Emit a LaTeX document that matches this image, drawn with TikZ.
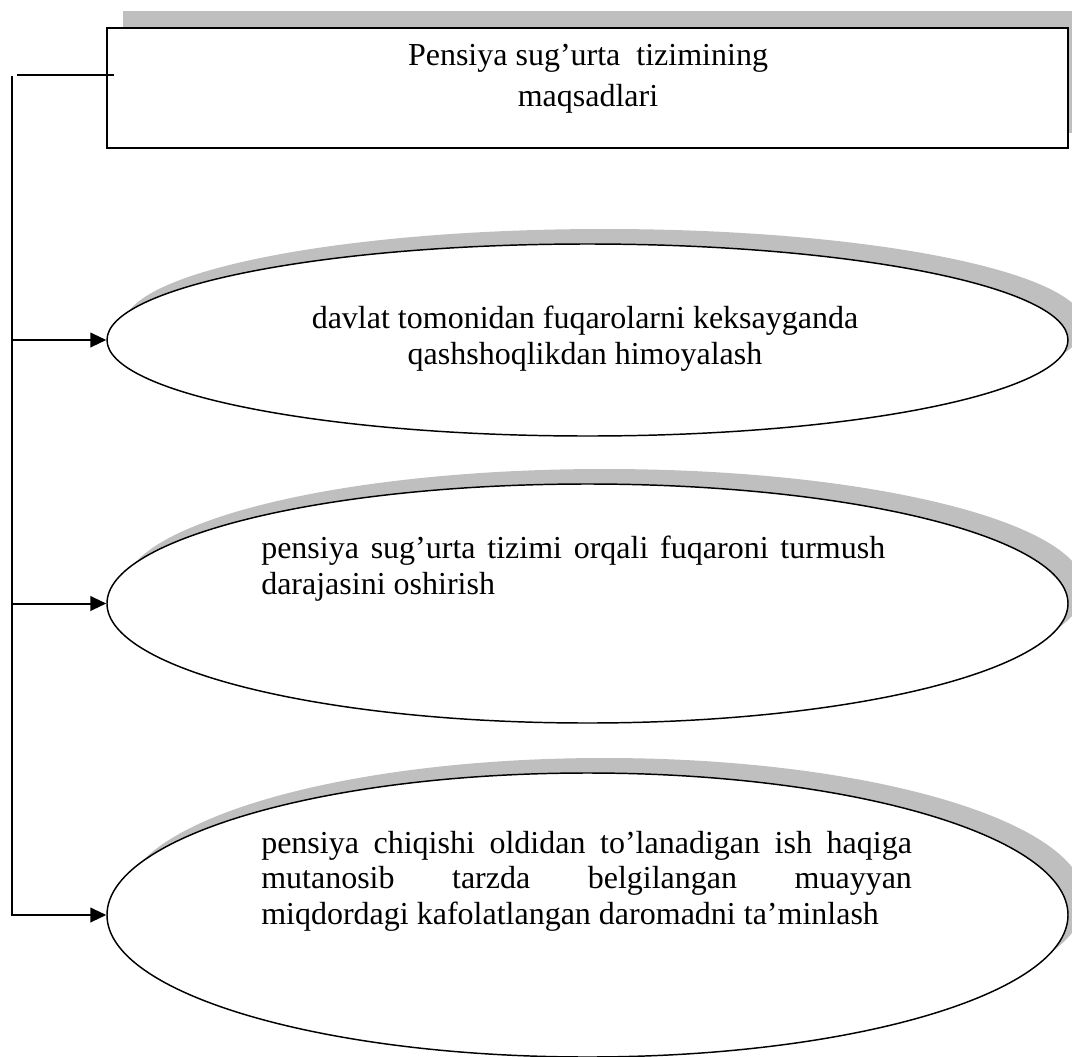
\documentclass[tikz,border=0pt]{standalone}
\usepackage{fontspec}
\setmainfont{Liberation Serif}
\usetikzlibrary{arrows.meta,shapes.geometric}
\definecolor{shade}{RGB}{191,191,191}
\pgfdeclarelayer{background}
\pgfsetlayers{background,main}
\begin{document}
\begin{tikzpicture}[x=0.75pt,y=-0.75pt,
  goal/.style={ellipse, draw, line width=1.1pt, fill=white, inner sep=0pt,
    minimum width=720.75pt},
  titlebox/.style={rectangle, draw, line width=1.5pt, fill=white, inner sep=0pt,
    minimum width=720.4pt, minimum height=90pt},
  backshade/.style={fill=shade},
  caption/.style={inner sep=0pt, font=\fontsize{24}{26.6}\selectfont},
  link/.style={line width=1.5pt},
  feed/.style={link, -{Triangle[length=12pt,width=11pt]}}
]
\useasboundingbox (0,0) rectangle (1072,1057);

% title box and the three goals
\node[titlebox] (title) at (587.75,88) {};
\node[goal, minimum height=144pt] (e1) at (587.5,340) {};
\node[goal, minimum height=179.25pt] (e2) at (587.5,603.5) {};
\node[goal, minimum height=213pt] (e3) at (587.5,915) {};

% offset grey shadows behind the shapes
\begin{pgfonlayer}{background}
  \fill[backshade] ([shift={(17,-16)}]title.south west) rectangle ([shift={(17,-16)}]title.north east);
  \fill[backshade] ([shift={(17,-15)}]e1.center) ellipse [x radius=480.5, y radius=96];
  \fill[backshade] ([shift={(17,-15)}]e2.center) ellipse [x radius=480.5, y radius=119.5];
  \fill[backshade] ([shift={(17,-15)}]e3.center) ellipse [x radius=480.5, y radius=142];
\end{pgfonlayer}

% texts (base anchor sits on the last line)
\node[caption, font=\fontsize{24}{30.75}\selectfont, align=center, anchor=base] (ttitle) at (588,106)
  {Pensiya sug’urta\ \ tizimining\\maqsadlari};
\node[caption, align=center, anchor=base] (t1) at (585,364)
  {davlat tomonidan fuqarolarni keksayganda\\qashshoqlikdan himoyalash};
\node[caption, align=left, anchor=base west] (t2) at (261,594)
  {\makebox[468pt][s]{pensiya sug’urta tizimi orqali fuqaroni turmush}\\darajasini oshirish};
\node[caption, align=left, anchor=base west] (t3) at (261,924)
  {\makebox[488pt][s]{pensiya chiqishi oldidan to’lanadigan ish haqiga}\\
   \makebox[488pt][s]{mutanosib tarzda belgilangan muayyan}\\
   miqdordagi kafolatlangan daromadni ta’minlash};

% connectors
\coordinate (tap) at (114,75);
\coordinate (spine) at (12,76);
\draw[link] (tap) -- ++(-97,0);
\draw[feed] (spine) |- (e3.west);
\draw[feed] (spine |- e1.west) -- (e1.west);
\draw[feed] (spine |- e2.west) -- (e2.west);
\end{tikzpicture}
\end{document}
